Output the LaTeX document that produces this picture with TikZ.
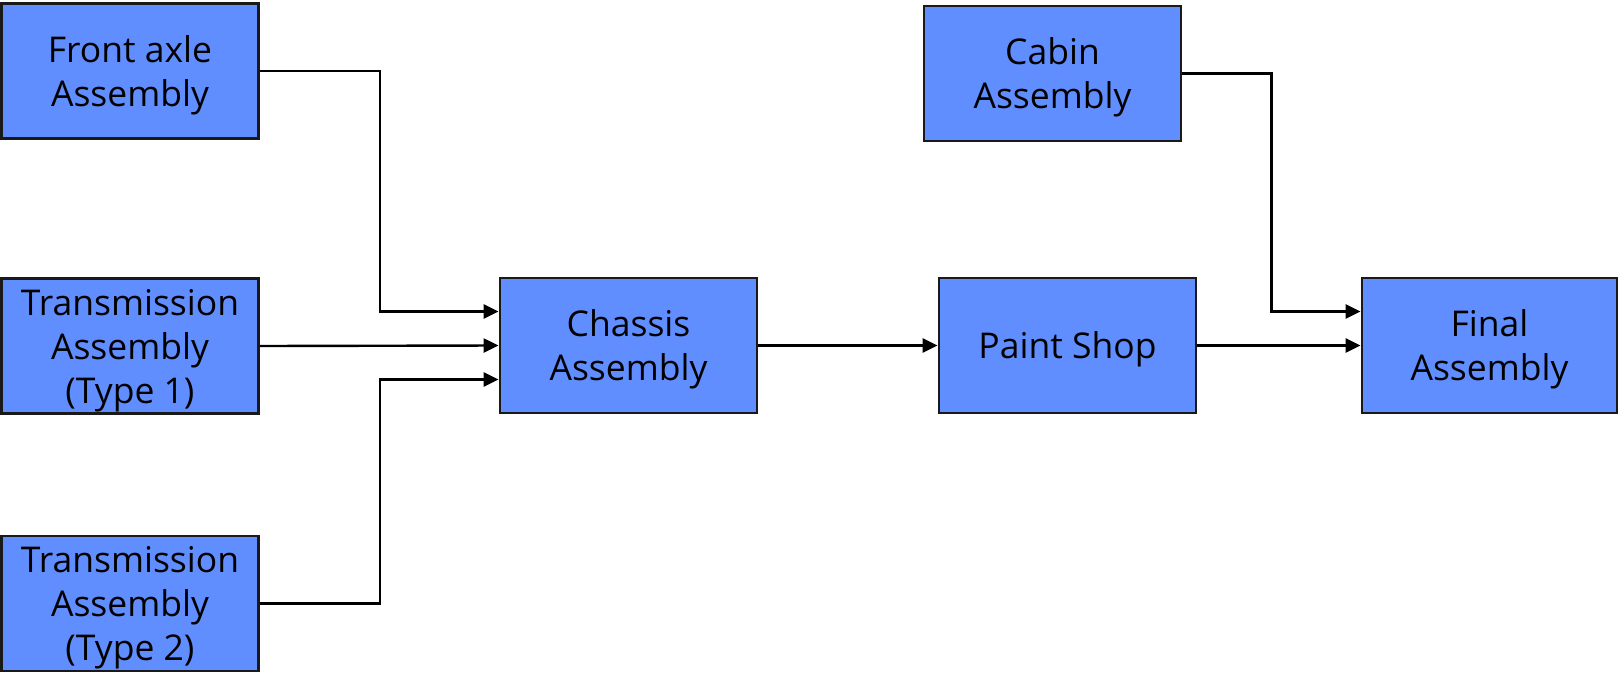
\documentclass[tikz,border=0pt]{standalone}
\usepackage{fontspec}
\setmainfont{Open Sans}
\usetikzlibrary{arrows.meta}
\definecolor{boxblue}{RGB}{97,142,255}
\definecolor{boxline}{RGB}{25,25,25}
\newcommand{\toppad}{\rule{0pt}{35pt}}
\tikzset{
  stage/.style={rectangle, draw=boxline, line width=2.8pt, fill=boxblue,
    minimum width=257pt, minimum height=135pt, inner sep=0pt, align=center,
    font=\fontsize{35.5}{44}\selectfont},
  conn/.style={line width=2.4pt, draw=black, -{Triangle[length=15pt,width=14pt]}},
}
\begin{document}
\begin{tikzpicture}[x=1pt,y=-1pt]
\useasboundingbox (0,0) rectangle (1618,673);
\node[stage] (front) at (130,71) {\toppad Front axle\\Assembly};
\node[stage] (t1) at (130,346) {\toppad Transmission\\Assembly\\(Type 1)};
\node[stage] (t2) at (130,603.5) {\toppad Transmission\\Assembly\\(Type 2)};
\node[stage] (chassis) at (628.5,345.5) {\toppad Chassis\\Assembly};
\node[stage] (paint) at (1067.5,345.5) {\toppad Paint Shop};
\node[stage] (cabin) at (1052.5,73.5) {\toppad Cabin\\Assembly};
\node[stage, minimum width=255pt] (final) at (1489.5,345.5) {\toppad Final\\Assembly};
\draw[conn] (front.east) -- ++(120pt,0) |- ([yshift=34pt]chassis.west);
\draw[conn] (t1.east) -- (chassis.west);
\draw[conn] (t2.east) -- ++(120pt,0) |- ([yshift=-34pt]chassis.west);
\draw[conn] (chassis.east) -- (paint.west);
\draw[conn] (cabin.east) -- ++(89pt,0) |- ([yshift=34pt]final.west);
\draw[conn] (paint.east) -- (final.west);
\end{tikzpicture}
\end{document}
